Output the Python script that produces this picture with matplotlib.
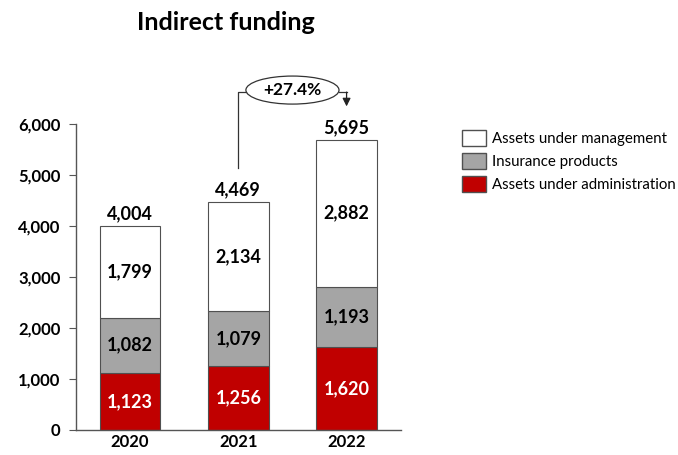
import matplotlib
matplotlib.use("Agg")
import matplotlib.pyplot as plt
from matplotlib.patches import Ellipse, Patch
import numpy as np

years = ["2020", "2021", "2022"]
admin = [1123, 1256, 1620]
insurance = [1082, 1079, 1193]
management = [1799, 2134, 2882]
totals = [4004, 4469, 5695]
growth_label = "+27.4%"
series_names = ["Assets under management", "Insurance products", "Assets under administration"]

plt.rcParams["font.family"] = ["Lato", "DejaVu Sans"]

RED = "#C00000"
GRAY = "#A5A5A5"
WHITE = "#FFFFFF"
EDGE = "#505050"

fig = plt.figure(figsize=(6.78, 4.55), dpi=100)
ax = fig.add_axes([0.112, 0.055, 0.479, 0.672])

x = np.arange(len(years))
w = 0.56
ax.bar(x, admin, w, color=RED, edgecolor=EDGE, linewidth=0.8)
ax.bar(x, insurance, w, bottom=admin, color=GRAY, edgecolor=EDGE, linewidth=0.8)
bottom3 = np.array(admin) + np.array(insurance)
ax.bar(x, management, w, bottom=bottom3, color=WHITE, edgecolor=EDGE, linewidth=0.8)

for i in range(len(years)):
    ax.text(x[i], admin[i] / 2, f"{admin[i]:,}", ha="center", va="center",
            color="white", fontsize=13, fontweight="bold")
    ax.text(x[i], admin[i] + insurance[i] / 2, f"{insurance[i]:,}", ha="center",
            va="center", color="black", fontsize=13, fontweight="bold")
    ax.text(x[i], bottom3[i] + management[i] / 2, f"{management[i]:,}", ha="center",
            va="center", color="black", fontsize=13, fontweight="bold")
    ax.text(x[i], totals[i] + 70, f"{totals[i]:,}", ha="center", va="bottom",
            color="black", fontsize=13, fontweight="bold")

ax.set_xlim(-0.5, 2.5)
ax.set_ylim(0, 6000)
ax.set_yticks(np.arange(0, 6001, 1000))
ax.set_yticklabels([f"{v:,}" for v in range(0, 6001, 1000)], fontsize=12, fontweight="bold")
ax.set_xticks(x)
ax.set_xticklabels(years, fontsize=12, fontweight="bold")
ax.tick_params(axis="x", length=0, pad=3)
ax.tick_params(axis="y", length=5, color="#555555", direction="out", pad=6)
for s in ["top", "right"]:
    ax.spines[s].set_visible(False)
for s in ["left", "bottom"]:
    ax.spines[s].set_color("#555555")
    ax.spines[s].set_linewidth(1.0)

# growth annotation between 2021 and 2022
y_line = 6630
ell_w, ell_h = 0.86, 550
ax.plot([1, 1, 1.5 - ell_w / 2], [5140, y_line, y_line], color="#333333", lw=0.9, clip_on=False)
ax.plot([1.5 + ell_w / 2, 2], [y_line, y_line], color="#333333", lw=0.9, clip_on=False)
ax.annotate("", xy=(2, 6350), xytext=(2, y_line), annotation_clip=False,
            arrowprops=dict(arrowstyle="-|>", color="#222222", lw=0.9,
                            shrinkA=0, shrinkB=0, mutation_scale=12))
ell = Ellipse((1.5, y_line + 40), ell_w, ell_h, facecolor="white", edgecolor="#333333",
              lw=0.9, clip_on=False)
ax.add_patch(ell)
ax.text(1.5, y_line + 40, growth_label, ha="center", va="center", fontsize=12.5,
        fontweight="bold")

fig.text(0.333, 0.95, "Indirect funding", ha="center", va="center", fontsize=18,
         fontweight="bold")

handles = [Patch(facecolor=WHITE, edgecolor=EDGE),
           Patch(facecolor=GRAY, edgecolor=EDGE),
           Patch(facecolor=RED, edgecolor=EDGE)]
fig.legend(handles, series_names, loc="upper left", bbox_to_anchor=(0.672, 0.727),
           frameon=False, fontsize=10.8, handlelength=1.6, handleheight=1.25,
           handletextpad=0.4, labelspacing=0.45, borderaxespad=0)

fig.savefig("out.png", dpi=100)
